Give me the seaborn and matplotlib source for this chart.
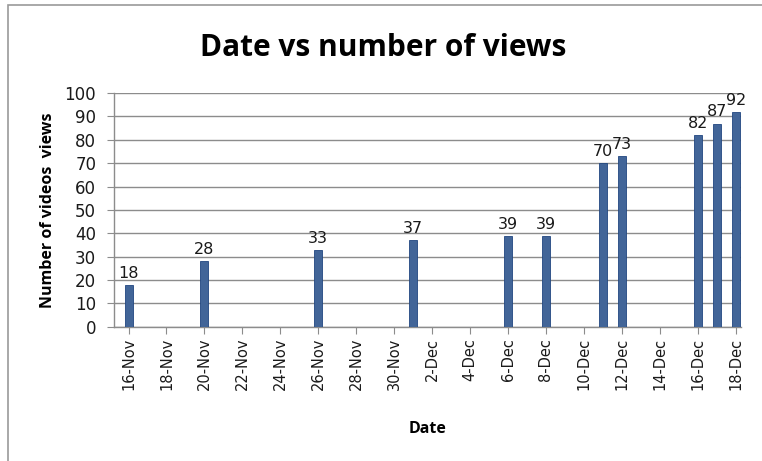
import pandas as pd
import numpy as np
import matplotlib.pyplot as plt
import seaborn as sns
from matplotlib.patches import Rectangle

# data
dates = ["16-Nov", "20-Nov", "26-Nov", "1-Dec", "6-Dec", "8-Dec",
         "11-Dec", "12-Dec", "16-Dec", "17-Dec", "18-Dec"]
views = [18, 28, 33, 37, 39, 39, 70, 73, 82, 87, 92]
yticks = [0, 10, 20, 30, 40, 50, 60, 70, 80, 90, 100]

dt = pd.to_datetime([d + "-2013" for d in dates], format="%d-%b-%Y")
start = pd.Timestamp("2013-11-16")
end = pd.Timestamp("2013-12-18")
df = pd.DataFrame({"day": (dt - start).days, "views": views})

tick_dates = pd.date_range(start, end, freq="2D")
tick_pos = (tick_dates - start).days
tick_labels = [f"{d.day}-{d.strftime('%b')}" for d in tick_dates]

sns.set_style("white")
plt.rcParams["font.family"] = ["DejaVu Sans"]
plt.rcParams["text.color"] = "black"
plt.rcParams["xtick.color"] = "black"
plt.rcParams["ytick.color"] = "black"
head_font = ["Open Sans", "DejaVu Sans"]

fig = plt.figure(figsize=(7.62, 4.61), dpi=100)
ax = fig.add_axes([0.150, 0.291, 0.823, 0.507])

sns.barplot(data=df, x="day", y="views", native_scale=True, width=0.42,
            color="#3462a6", edgecolor="#214680", linewidth=0.6,
            errorbar=None, ax=ax, zorder=3)

for c in ax.containers:
    ax.bar_label(c, padding=3, fontsize=11.5, color="#1a1a1a", family="DejaVu Sans")

ax.set_xlim(-0.75, (end - start).days + 0.3)
ax.set_ylim(0, 100)
ax.set_yticks(yticks)
ax.set_yticklabels([str(v) for v in yticks], fontsize=12, family="DejaVu Sans")
ax.set_xticks(tick_pos)
ax.set_xticklabels(tick_labels, rotation=90, fontsize=10.5, family="DejaVu Sans")

ax.grid(axis="y", color="#8c8c8c", linewidth=1.0, zorder=0)
ax.set_axisbelow(True)
for s in ["top", "right"]:
    ax.spines[s].set_visible(False)
for s in ["left", "bottom"]:
    ax.spines[s].set_color("#8c8c8c")
    ax.spines[s].set_linewidth(1.0)
ax.tick_params(axis="y", left=True, length=5, color="#8c8c8c", labelcolor="#1a1a1a", pad=8)
ax.tick_params(axis="x", bottom=True, length=5, color="#8c8c8c", labelcolor="#1a1a1a", pad=3)

ax.set_xlabel("Date", fontsize=11.5, fontweight="bold", family=head_font,
              color="black", labelpad=22)
ax.set_ylabel("Number of videos  views", fontsize=11.5, fontweight="bold",
              family=head_font, color="black", labelpad=6)
fig.text(0.503, 0.895, "Date vs number of views", ha="center", va="center",
         fontsize=21.5, fontweight="bold", family=head_font, color="black")

# outer chart frame
fig.patches.append(Rectangle((0.011, -0.01), 1.0, 1.0, transform=fig.transFigure,
                             fill=False, edgecolor="#9a9a9a", linewidth=1.2))

fig.savefig("out.png", dpi=100)
